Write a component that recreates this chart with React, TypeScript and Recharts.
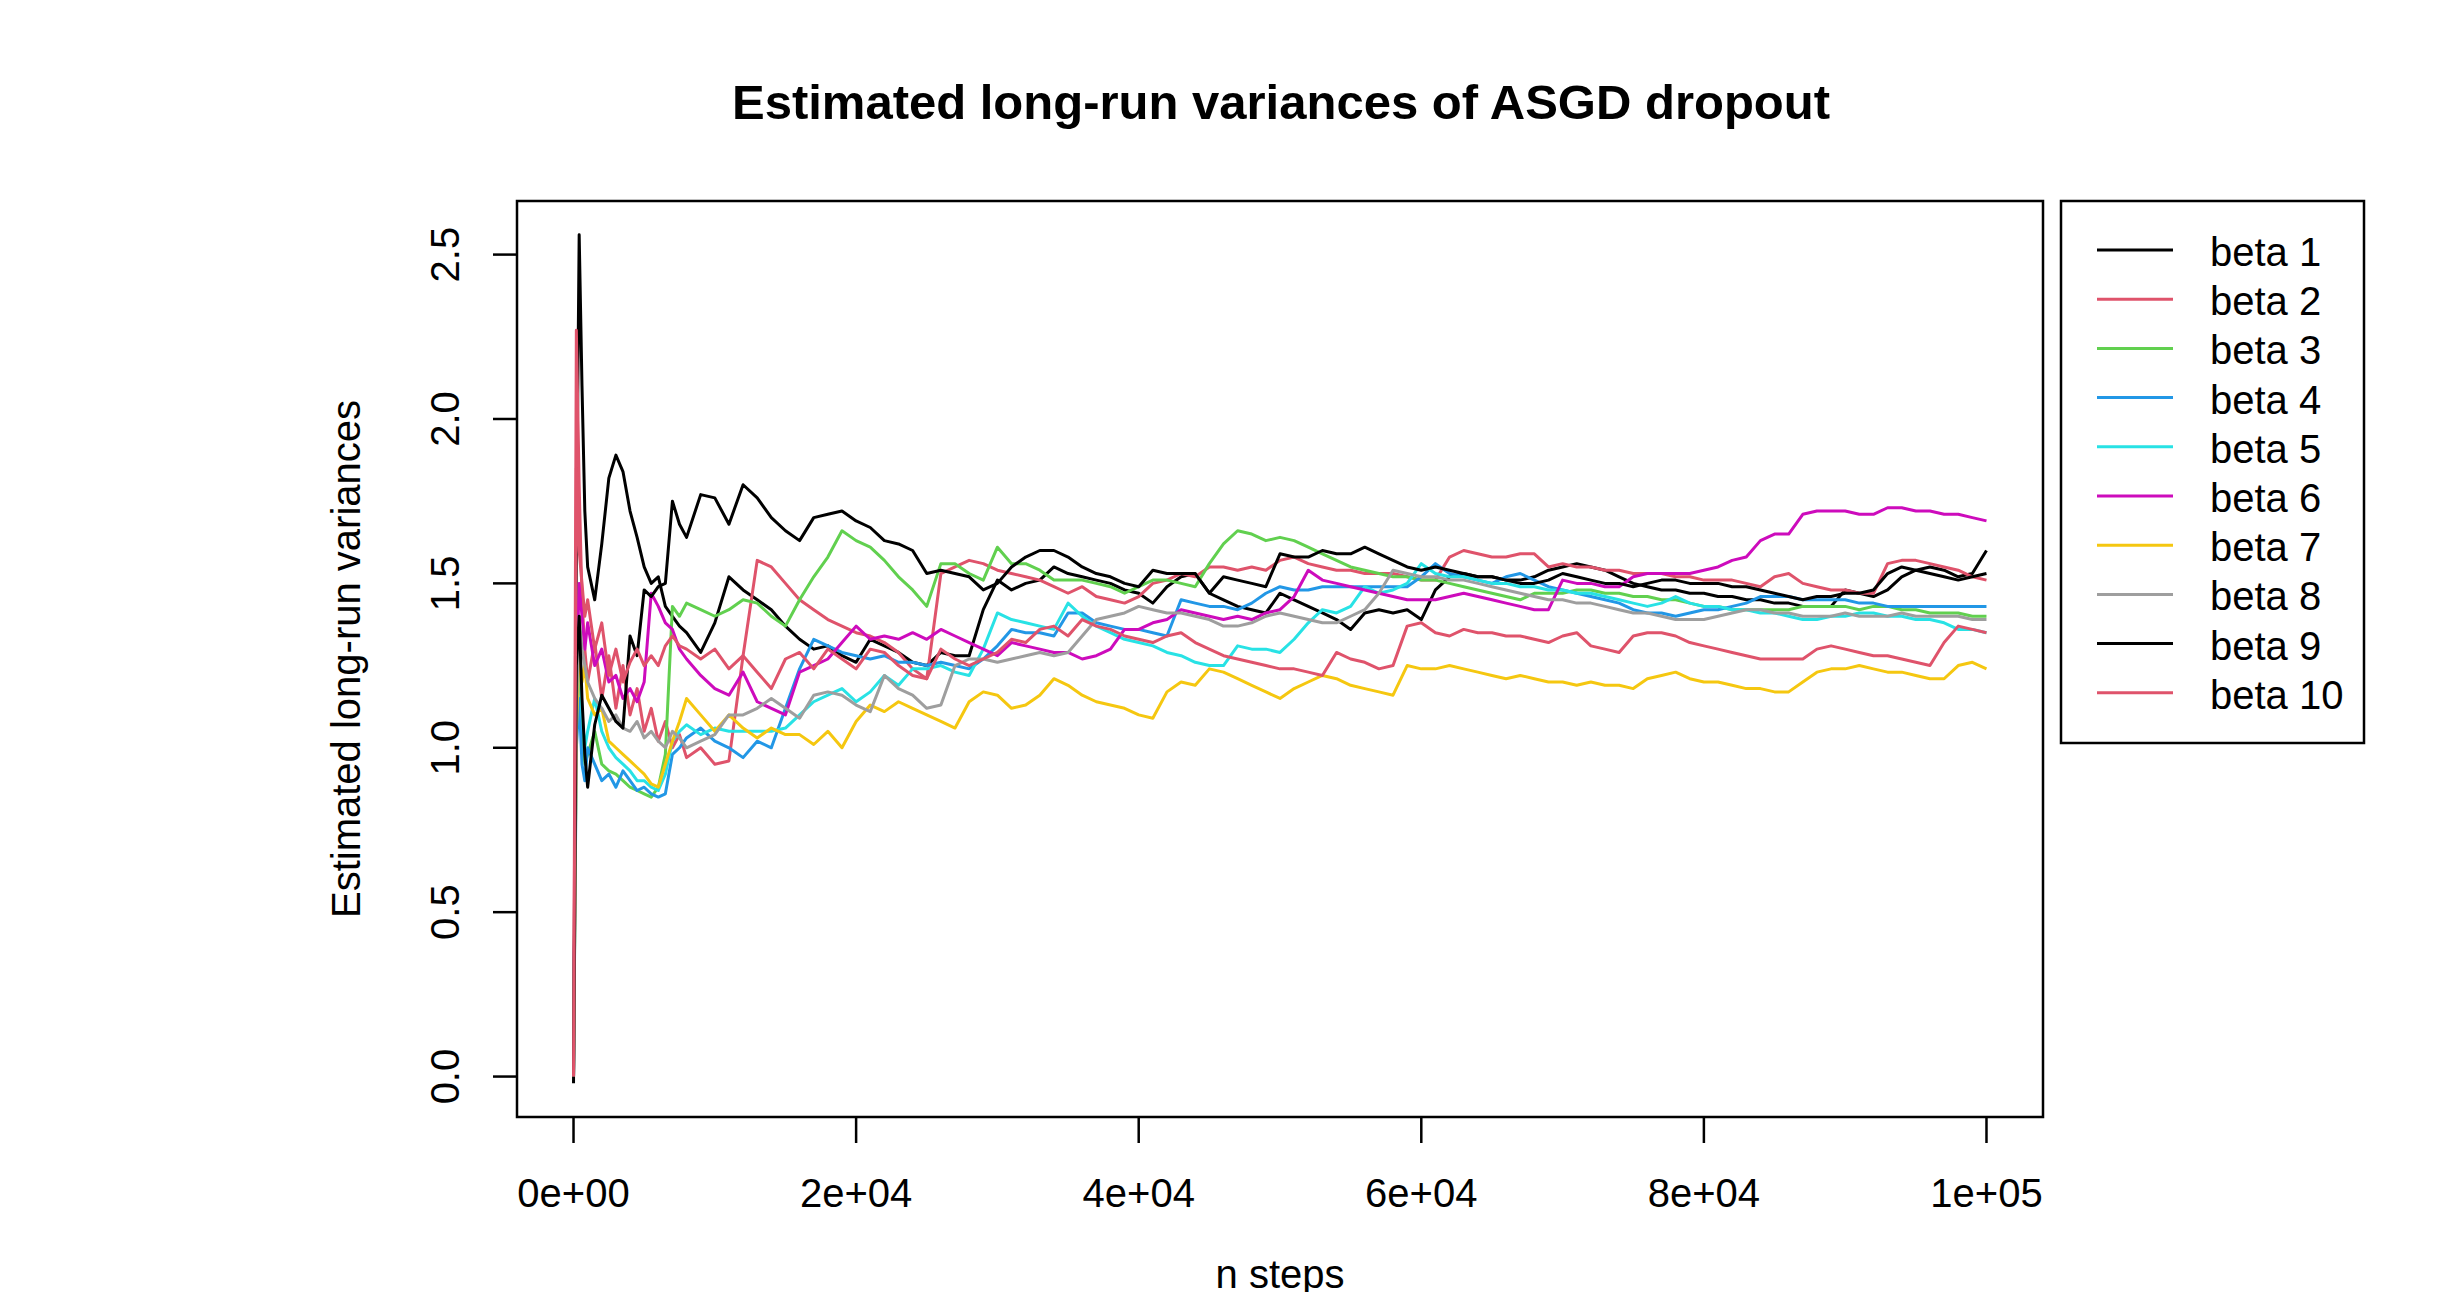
import React from 'react';
import { LineChart, Line, XAxis, YAxis, ReferenceArea } from 'recharts';

// x grid (n steps): dense at the start, then every 1000 steps
const steps = [
  0, 200, 400, 600, 800, 1000, 1500, 2000, 2500, 3000, 3500, 4000, 4500, 5000, 5500, 6000, 6500, 7000, 7500, 8000, 9000, 10000,
  11000, 12000, 13000, 14000, 15000, 16000, 17000, 18000, 19000, 20000,
  21000, 22000, 23000, 24000, 25000, 26000, 27000, 28000, 29000, 30000,
  31000, 32000, 33000, 34000, 35000, 36000, 37000, 38000, 39000, 40000,
  41000, 42000, 43000, 44000, 45000, 46000, 47000, 48000, 49000, 50000,
  51000, 52000, 53000, 54000, 55000, 56000, 57000, 58000, 59000, 60000,
  61000, 62000, 63000, 64000, 65000, 66000, 67000, 68000, 69000, 70000,
  71000, 72000, 73000, 74000, 75000, 76000, 77000, 78000, 79000, 80000,
  81000, 82000, 83000, 84000, 85000, 86000, 87000, 88000, 89000, 90000,
  91000, 92000, 93000, 94000, 95000, 96000, 97000, 98000, 99000, 100000,
];

const beta1 = [
  -0.02, 1.6, 2.56, 2.1, 1.72, 1.55, 1.45, 1.62, 1.82, 1.89, 1.84, 1.72, 1.64, 1.55, 1.5, 1.52, 1.43, 1.4, 1.37, 1.35, 1.29, 1.38,
  1.52, 1.48, 1.45, 1.42, 1.37, 1.33, 1.3, 1.31, 1.28, 1.26,
  1.33, 1.31, 1.29, 1.26, 1.25, 1.29, 1.28, 1.28, 1.42, 1.51,
  1.48, 1.5, 1.51, 1.55, 1.53, 1.52, 1.51, 1.5, 1.48, 1.47,
  1.44, 1.49, 1.52, 1.53, 1.47, 1.45, 1.43, 1.42, 1.41, 1.47,
  1.45, 1.43, 1.41, 1.39, 1.36, 1.41, 1.42, 1.41, 1.42, 1.39,
  1.48, 1.52, 1.53, 1.52, 1.52, 1.51, 1.51, 1.52, 1.54, 1.55,
  1.56, 1.55, 1.54, 1.52, 1.5, 1.49, 1.48, 1.48, 1.47, 1.47,
  1.46, 1.46, 1.45, 1.45, 1.44, 1.44, 1.43, 1.43, 1.43, 1.48,
  1.47, 1.46, 1.48, 1.52, 1.54, 1.55, 1.54, 1.52, 1.53, 1.6,
];

const beta2 = [
  0.0, 2.27, 1.8, 1.45, 1.3, 1.2, 1.32, 1.15, 1.28, 1.12, 1.25, 1.1, 1.18, 1.05, 1.12, 1.02, 1.08, 1.0, 1.04, 0.97, 1.0, 0.95,
  0.96, 1.28, 1.57, 1.55, 1.5, 1.45, 1.42, 1.39, 1.37, 1.35,
  1.34, 1.32, 1.29, 1.24, 1.21, 1.53, 1.55, 1.57, 1.56, 1.54,
  1.53, 1.52, 1.51, 1.49, 1.47, 1.49, 1.46, 1.45, 1.44, 1.46,
  1.5, 1.51, 1.53, 1.52, 1.55, 1.55, 1.54, 1.55, 1.54, 1.57,
  1.58, 1.56, 1.55, 1.54, 1.54, 1.53, 1.53, 1.53, 1.52, 1.51,
  1.51, 1.58, 1.6, 1.59, 1.58, 1.58, 1.59, 1.59, 1.55, 1.56,
  1.55, 1.55, 1.54, 1.54, 1.53, 1.53, 1.53, 1.52, 1.52, 1.51,
  1.51, 1.51, 1.5, 1.49, 1.52, 1.53, 1.5, 1.49, 1.48, 1.48,
  1.47, 1.47, 1.56, 1.57, 1.57, 1.56, 1.55, 1.54, 1.52, 1.51,
];

const beta3 = [
  0.0, 1.1, 1.3, 1.05, 0.95, 0.98, 1.05, 0.95, 0.93, 0.92, 0.9, 0.88, 0.87, 0.86, 0.85, 0.88, 0.98, 1.43, 1.4, 1.44, 1.42, 1.4,
  1.42, 1.45, 1.44, 1.4, 1.37, 1.45, 1.52, 1.58, 1.66, 1.63,
  1.61, 1.57, 1.52, 1.48, 1.43, 1.56, 1.56, 1.53, 1.51, 1.61,
  1.56, 1.56, 1.54, 1.51, 1.51, 1.51, 1.5, 1.49, 1.47, 1.49,
  1.51, 1.51, 1.5, 1.49, 1.56, 1.62, 1.66, 1.65, 1.63, 1.64,
  1.63, 1.61, 1.59, 1.57, 1.55, 1.54, 1.53, 1.52, 1.52, 1.51,
  1.51, 1.5, 1.49, 1.48, 1.47, 1.46, 1.45, 1.47, 1.47, 1.47,
  1.48, 1.48, 1.47, 1.47, 1.46, 1.46, 1.45, 1.45, 1.44, 1.43,
  1.43, 1.42, 1.42, 1.42, 1.42, 1.42, 1.43, 1.43, 1.43, 1.43,
  1.42, 1.43, 1.43, 1.42, 1.42, 1.41, 1.41, 1.41, 1.4, 1.4,
];

const beta4 = [
  0.0, 1.0, 1.15, 0.95, 0.9, 1.0, 0.95, 0.9, 0.92, 0.88, 0.93, 0.9, 0.87, 0.88, 0.86, 0.85, 0.86, 0.98, 1.0, 1.03, 1.06, 1.02,
  1.0, 0.97, 1.02, 1.0, 1.12, 1.24, 1.33, 1.31, 1.29, 1.28,
  1.27, 1.28, 1.26, 1.26, 1.25, 1.26, 1.25, 1.24, 1.27, 1.31,
  1.36, 1.35, 1.35, 1.34, 1.41, 1.41, 1.38, 1.37, 1.36, 1.36,
  1.35, 1.34, 1.45, 1.44, 1.43, 1.43, 1.42, 1.44, 1.47, 1.49,
  1.48, 1.48, 1.49, 1.49, 1.49, 1.49, 1.49, 1.49, 1.49, 1.52,
  1.56, 1.53, 1.52, 1.51, 1.5, 1.52, 1.53, 1.51, 1.49, 1.48,
  1.47, 1.46, 1.45, 1.44, 1.42, 1.41, 1.41, 1.4, 1.41, 1.42,
  1.42, 1.43, 1.44, 1.46, 1.46, 1.46, 1.45, 1.45, 1.45, 1.45,
  1.44, 1.44, 1.43, 1.43, 1.43, 1.43, 1.43, 1.43, 1.43, 1.43,
];

const beta5 = [
  0.0, 1.1, 1.35, 1.1, 1.0, 1.05, 1.15, 1.05, 1.0, 0.97, 0.95, 0.93, 0.9, 0.9, 0.88, 0.87, 0.92, 1.02, 1.05, 1.07, 1.04, 1.06,
  1.05, 1.05, 1.05, 1.05, 1.06, 1.1, 1.14, 1.16, 1.18, 1.14,
  1.17, 1.22, 1.19, 1.24, 1.24, 1.25, 1.23, 1.22, 1.3, 1.41,
  1.39, 1.38, 1.37, 1.36, 1.44, 1.4, 1.37, 1.35, 1.33, 1.32,
  1.31, 1.29, 1.28, 1.26, 1.25, 1.25, 1.31, 1.3, 1.3, 1.29,
  1.33, 1.38, 1.42, 1.41, 1.43, 1.49, 1.47, 1.48, 1.5, 1.56,
  1.53, 1.52, 1.52, 1.51, 1.5, 1.5, 1.49, 1.49, 1.48, 1.48,
  1.47, 1.47, 1.46, 1.45, 1.44, 1.43, 1.44, 1.46, 1.44, 1.43,
  1.43, 1.42, 1.42, 1.41, 1.41, 1.4, 1.39, 1.39, 1.4, 1.4,
  1.41, 1.41, 1.4, 1.4, 1.39, 1.39, 1.38, 1.36, 1.36, 1.35,
];

const beta6 = [
  0.0, 1.2, 1.5, 1.4, 1.3, 1.38, 1.25, 1.3, 1.2, 1.22, 1.15, 1.18, 1.14, 1.2, 1.47, 1.43, 1.38, 1.36, 1.3, 1.27, 1.22, 1.18,
  1.16, 1.23, 1.14, 1.12, 1.1, 1.23, 1.25, 1.27, 1.32, 1.37,
  1.33, 1.34, 1.33, 1.35, 1.33, 1.36, 1.34, 1.32, 1.3, 1.28,
  1.32, 1.31, 1.3, 1.29, 1.29, 1.27, 1.28, 1.3, 1.36, 1.36,
  1.38, 1.39, 1.42, 1.41, 1.4, 1.39, 1.4, 1.39, 1.41, 1.42,
  1.46, 1.54, 1.51, 1.5, 1.49, 1.48, 1.47, 1.46, 1.45, 1.45,
  1.45, 1.46, 1.47, 1.46, 1.45, 1.44, 1.43, 1.42, 1.42, 1.51,
  1.5, 1.5, 1.49, 1.49, 1.52, 1.53, 1.53, 1.53, 1.53, 1.54,
  1.55, 1.57, 1.58, 1.63, 1.65, 1.65, 1.71, 1.72, 1.72, 1.72,
  1.71, 1.71, 1.73, 1.73, 1.72, 1.72, 1.71, 1.71, 1.7, 1.69,
];

const beta7 = [
  0.0, 1.05, 1.3, 1.2, 1.25, 1.15, 1.1, 1.12, 1.02, 1.0, 0.98, 0.96, 0.94, 0.92, 0.89, 0.88, 0.95, 1.02, 1.08, 1.15, 1.1, 1.05,
  1.1, 1.06, 1.03, 1.06, 1.04, 1.04, 1.01, 1.05, 1.0, 1.08,
  1.13, 1.11, 1.14, 1.12, 1.1, 1.08, 1.06, 1.14, 1.17, 1.16,
  1.12, 1.13, 1.16, 1.21, 1.19, 1.16, 1.14, 1.13, 1.12, 1.1,
  1.09, 1.17, 1.2, 1.19, 1.24, 1.23, 1.21, 1.19, 1.17, 1.15,
  1.18, 1.2, 1.22, 1.21, 1.19, 1.18, 1.17, 1.16, 1.25, 1.24,
  1.24, 1.25, 1.24, 1.23, 1.22, 1.21, 1.22, 1.21, 1.2, 1.2,
  1.19, 1.2, 1.19, 1.19, 1.18, 1.21, 1.22, 1.23, 1.21, 1.2,
  1.2, 1.19, 1.18, 1.18, 1.17, 1.17, 1.2, 1.23, 1.24, 1.24,
  1.25, 1.24, 1.23, 1.23, 1.22, 1.21, 1.21, 1.25, 1.26, 1.24,
];

const beta8 = [
  0.0, 1.1, 1.4, 1.3, 1.25, 1.2, 1.15, 1.12, 1.08, 1.1, 1.06, 1.05, 1.08, 1.03, 1.05, 1.02, 1.0, 1.05, 1.03, 1.0, 1.02, 1.04,
  1.1, 1.1, 1.12, 1.15, 1.12, 1.09, 1.16, 1.17, 1.16, 1.13,
  1.11, 1.22, 1.18, 1.16, 1.12, 1.13, 1.25, 1.27, 1.27, 1.26,
  1.27, 1.28, 1.29, 1.28, 1.29, 1.34, 1.39, 1.4, 1.41, 1.43,
  1.42, 1.41, 1.41, 1.4, 1.39, 1.37, 1.37, 1.38, 1.4, 1.41,
  1.4, 1.39, 1.38, 1.38, 1.4, 1.42, 1.47, 1.54, 1.53, 1.52,
  1.52, 1.51, 1.51, 1.5, 1.49, 1.48, 1.47, 1.46, 1.45, 1.45,
  1.44, 1.44, 1.43, 1.42, 1.41, 1.41, 1.4, 1.39, 1.39, 1.39,
  1.4, 1.41, 1.42, 1.42, 1.41, 1.41, 1.4, 1.4, 1.4, 1.41,
  1.4, 1.4, 1.4, 1.41, 1.4, 1.4, 1.4, 1.4, 1.39, 1.39,
];

const beta9 = [
  0.0, 1.25, 1.4, 1.15, 0.98, 0.88, 1.07, 1.16, 1.12, 1.08, 1.06, 1.34, 1.28, 1.48, 1.46, 1.49, 1.5, 1.75, 1.68, 1.64, 1.77, 1.76,
  1.68, 1.8, 1.76, 1.7, 1.66, 1.63, 1.7, 1.71, 1.72, 1.69,
  1.67, 1.63, 1.62, 1.6, 1.53, 1.54, 1.53, 1.52, 1.48, 1.5,
  1.55, 1.58, 1.6, 1.6, 1.58, 1.55, 1.53, 1.52, 1.5, 1.49,
  1.54, 1.53, 1.53, 1.53, 1.47, 1.52, 1.51, 1.5, 1.49, 1.59,
  1.58, 1.58, 1.6, 1.59, 1.59, 1.61, 1.59, 1.57, 1.55, 1.54,
  1.55, 1.54, 1.53, 1.52, 1.52, 1.51, 1.5, 1.5, 1.51, 1.53,
  1.52, 1.51, 1.5, 1.5, 1.49, 1.5, 1.51, 1.51, 1.5, 1.5,
  1.5, 1.49, 1.49, 1.48, 1.47, 1.46, 1.45, 1.46, 1.46, 1.47,
  1.47, 1.48, 1.53, 1.55, 1.54, 1.53, 1.52, 1.51, 1.52, 1.53,
];

const beta10 = [
  0.0, 1.85, 1.6, 1.5, 1.4, 1.45, 1.3, 1.38, 1.22, 1.3, 1.2, 1.26, 1.3, 1.25, 1.28, 1.25, 1.31, 1.34, 1.31, 1.3, 1.27, 1.3,
  1.24, 1.28, 1.23, 1.18, 1.27, 1.29, 1.24, 1.3, 1.27, 1.24,
  1.3, 1.29, 1.25, 1.22, 1.21, 1.3, 1.27, 1.25, 1.27, 1.29,
  1.33, 1.32, 1.36, 1.37, 1.34, 1.39, 1.37, 1.36, 1.34, 1.33,
  1.32, 1.34, 1.35, 1.32, 1.3, 1.28, 1.27, 1.26, 1.25, 1.24,
  1.24, 1.23, 1.22, 1.29, 1.27, 1.26, 1.24, 1.25, 1.37, 1.38,
  1.35, 1.34, 1.36, 1.35, 1.35, 1.34, 1.34, 1.33, 1.32, 1.34,
  1.35, 1.31, 1.3, 1.29, 1.34, 1.35, 1.35, 1.34, 1.32, 1.31,
  1.3, 1.29, 1.28, 1.27, 1.27, 1.27, 1.27, 1.3, 1.31, 1.3,
  1.29, 1.28, 1.28, 1.27, 1.26, 1.25, 1.32, 1.37, 1.36, 1.35,
];

const seriesNames = ['beta 1', 'beta 2', 'beta 3', 'beta 4', 'beta 5', 'beta 6', 'beta 7', 'beta 8', 'beta 9', 'beta 10'];
const seriesValues = [beta1, beta2, beta3, beta4, beta5, beta6, beta7, beta8, beta9, beta10];
// R 4.x default palette, recycled after 8 colours
const seriesColors = ['#000000', '#DF536B', '#61D04F', '#2297E6', '#28E2E5', '#CD0BBC', '#F5C710', '#9E9E9E', '#000000', '#DF536B'];

const xTicks = [0, 20000, 40000, 60000, 80000, 100000];
const xTickLabels = ['0e+00', '2e+04', '4e+04', '6e+04', '8e+04', '1e+05'];
const yTicks = [0, 0.5, 1, 1.5, 2, 2.5];
const yTickLabels = ['0.0', '0.5', '1.0', '1.5', '2.0', '2.5'];

const xDomain: [number, number] = [-4000, 104000];
const yDomain: [number, number] = [-0.123, 2.663];

const FONT = "'Liberation Sans', Arial, Helvetica, sans-serif";

const data = steps.map((step, i) => {
  const row: any = { step };
  seriesValues.forEach((vals, k) => {
    row[`b${k + 1}`] = vals[i];
  });
  return row;
});

// y tick labels are drawn parallel to the axis, as R does
const YTick = (props: any) => {
  const { x, y, payload } = props;
  const idx = yTicks.indexOf(payload.value);
  return (
    <text
      x={x}
      y={y}
      transform={`rotate(-90, ${x}, ${y})`}
      textAnchor="middle"
      fontSize={40}
      fontFamily={FONT}
      fill="#000"
    >
      {idx >= 0 ? yTickLabels[idx] : payload.value}
    </text>
  );
};

const App: React.FC = () => {
  const W = 2426;
  const H = 1284;

  return (
    <div style={{ position: 'relative', width: W, height: H, background: '#fff', fontFamily: FONT }}>
      <LineChart
        width={W}
        height={H}
        data={data}
        margin={{ top: 193, right: 391, bottom: 95, left: 429 }}
      >
        <XAxis
          type="number"
          dataKey="step"
          domain={xDomain}
          allowDataOverflow
          ticks={xTicks}
          interval={0}
          tickFormatter={(v: number) => xTickLabels[xTicks.indexOf(v)] ?? String(v)}
          axisLine={false}
          tickLine={{ stroke: '#000', strokeWidth: 2.5 }}
          tickSize={26}
          tickMargin={36}
          height={80}
          tick={{ fontSize: 40, fill: '#000', fontFamily: FONT }}
        />
        <YAxis
          type="number"
          domain={yDomain}
          allowDataOverflow
          ticks={yTicks}
          interval={0}
          axisLine={false}
          tickLine={{ stroke: '#000', strokeWidth: 2.5 }}
          tickSize={24}
          tickMargin={34}
          width={80}
          tick={<YTick />}
        />
        <ReferenceArea
          x1={xDomain[0]}
          x2={xDomain[1]}
          y1={yDomain[0]}
          y2={yDomain[1]}
          fill="none"
          fillOpacity={0}
          stroke="#000"
          strokeWidth={2.5}
          ifOverflow="visible"
        />
        {seriesNames.map((name, k) => (
          <Line
            key={name}
            type="linear"
            dataKey={`b${k + 1}`}
            name={name}
            stroke={seriesColors[k]}
            strokeWidth={3}
            strokeLinejoin="round"
            dot={false}
            activeDot={false}
            isAnimationActive={false}
          />
        ))}
      </LineChart>

      <svg
        width={W}
        height={H + 8}
        style={{ position: 'absolute', left: 0, top: 0, pointerEvents: 'none', overflow: 'visible' }}
        fontFamily={FONT}
      >
        <text x={1273} y={111} textAnchor="middle" fontSize={49} fontWeight="bold" fill="#000">
          Estimated long-run variances of ASGD dropout
        </text>
        <text x={1272} y={1280} textAnchor="middle" fontSize={40} fill="#000">
          n steps
        </text>
        <text transform="translate(352, 651) rotate(-90)" textAnchor="middle" fontSize={40} fill="#000">
          Estimated long-run variances
        </text>

        {/* legend */}
        <rect x={2053} y={193} width={303} height={542} fill="#fff" stroke="#000" strokeWidth={2.5} />
        {seriesNames.map((name, k) => {
          const y = 242 + k * 49.2;
          return (
            <g key={name}>
              <line x1={2089} x2={2165} y1={y} y2={y} stroke={seriesColors[k]} strokeWidth={3} />
              <text x={2202} y={y + 16} fontSize={40} fill="#000">
                {name}
              </text>
            </g>
          );
        })}
      </svg>
    </div>
  );
};

export default App;
